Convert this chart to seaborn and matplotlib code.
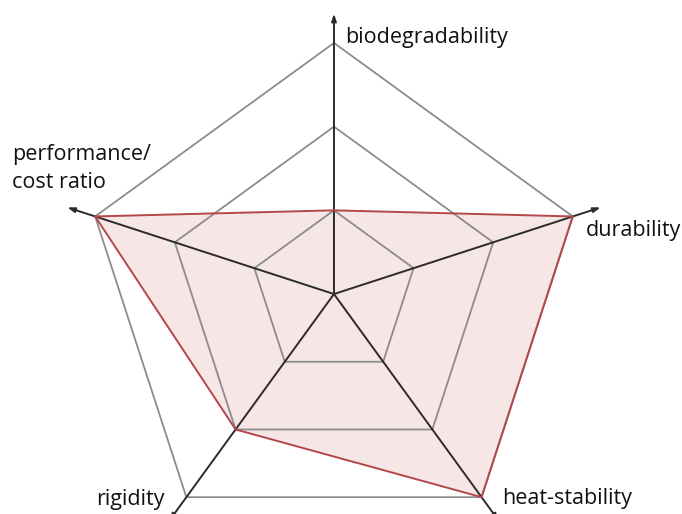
import numpy as np
import pandas as pd
import matplotlib
matplotlib.use("Agg")
import matplotlib.pyplot as plt
import seaborn as sns

# --- data ---
categories = ["biodegradability", "durability", "heat-stability", "rigidity", "performance/\ncost ratio"]
values = [1, 3, 3, 2, 3]
levels = [1, 2, 3]
axis_max = 3.35  # spokes run a bit past the outer ring

sns.set_theme(style="white")
plt.rcParams["font.family"] = ["Open Sans", "DejaVu Sans"]

n = len(categories)
# first axis points straight up, then clockwise
angles = np.deg2rad(90 - 360 / n * np.arange(n))

def ring(r):
    rr = np.append(np.full(n, r, dtype=float) if np.isscalar(r) else np.asarray(r, float), 0)
    rr[-1] = rr[0]
    a = np.append(angles, angles[0])
    return pd.DataFrame({"x": rr * np.cos(a), "y": rr * np.sin(a), "i": np.arange(n + 1)})

fig = plt.figure(figsize=(6.82, 5.14), dpi=100)
ax = fig.add_axes([0, 0, 1, 1])

# filled data polygon
poly = ring(values)
ax.fill(poly["x"], poly["y"], color="#c0504d", alpha=0.14, lw=0, zorder=1)

# grid pentagons
for lv in levels:
    g = ring(lv)
    sns.lineplot(data=g, x="x", y="y", sort=False, estimator=None, color="#8c8c8c",
                 lw=1.3, ax=ax, zorder=2)

# spokes with arrow heads
for a in angles:
    ax.annotate("", xy=(axis_max * np.cos(a), axis_max * np.sin(a)), xytext=(0, 0),
                arrowprops=dict(arrowstyle="-|>,head_length=0.35,head_width=0.12",
                                color="#2b2b2b", lw=1.4, shrinkA=0, shrinkB=0),
                annotation_clip=False, zorder=3)

# data outline
sns.lineplot(data=poly, x="x", y="y", sort=False, estimator=None, color="#b4474a",
             lw=1.4, ax=ax, zorder=4)

# axis labels
fs = 15.5
tc = "#111111"
ax.text(0.13, 3.07, categories[0], fontsize=fs, ha="left", va="center", color=tc)
ax.text(3.01, 0.76, categories[1], fontsize=fs, ha="left", va="center", color=tc)
ax.text(2.01, -2.44, categories[2], fontsize=fs, ha="left", va="center", color=tc)
ax.text(-2.03, -2.46, categories[3], fontsize=fs, ha="right", va="center", color=tc)
ax.text(-3.85, 1.50, categories[4], fontsize=fs, ha="left", va="center", color=tc,
        linespacing=1.4)

ax.set_xlim(-3.99, 4.158)
ax.set_ylim(-2.628, 3.513)
ax.set_aspect("equal")
ax.axis("off")

fig.savefig("out.png", dpi=100)
